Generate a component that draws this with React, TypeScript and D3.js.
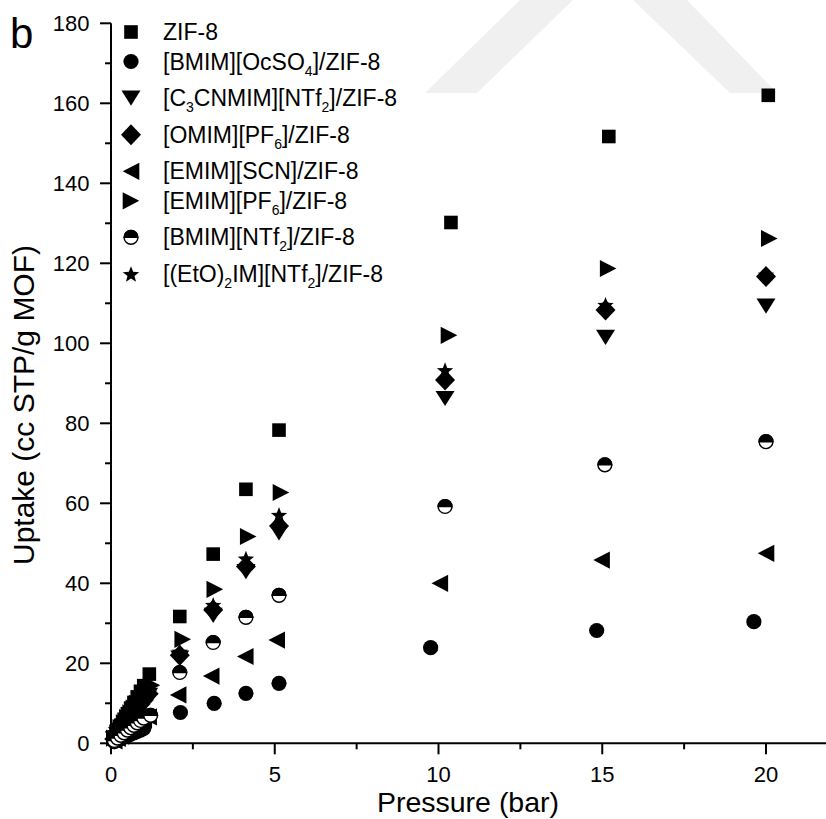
import React from "react";
import * as d3 from "d3";

// ---- data (pressure in bar, uptake in cc STP/g MOF) ----
const zif8: [number, number][] = [
  [0.1, 1.6], [0.2, 3.1], [0.3, 4.5], [0.4, 6.0], [0.5, 7.4], [0.6, 8.8], [0.7, 10.2], [0.8, 11.6], [0.9, 13.0], [1.0, 14.4], [1.17, 17.3],
  [2.1, 31.7], [3.12, 47.3], [4.12, 63.5], [5.13, 78.3], [10.38, 130.2], [15.2, 151.7], [20.07, 162.0],
];
const bmimOcSO4: [number, number][] = [
  [0.1, 0.4], [0.2, 0.8], [0.3, 1.2], [0.4, 1.6], [0.5, 1.9], [0.6, 2.3], [0.7, 2.6], [0.8, 3.0], [0.9, 3.3], [1.0, 3.7],
  [2.12, 7.7], [3.15, 10.0], [4.12, 12.5], [5.13, 15.0], [9.76, 23.9], [14.83, 28.2], [19.63, 30.4],
];
const c3cnmimNTf2: [number, number][] = [
  [0.1, 1.1], [0.2, 2.2], [0.3, 3.3], [0.4, 4.3], [0.5, 5.4], [0.6, 6.4], [0.7, 7.5], [0.8, 8.5], [0.9, 9.5], [1.0, 10.5], [1.15, 12.0],
  [2.1, 21.3], [3.12, 32.0], [4.12, 42.9], [5.13, 52.6], [10.2, 86.2], [15.1, 101.5], [20.0, 109.3],
];
const omimPF6: [number, number][] = [
  [0.1, 1.1], [0.2, 2.3], [0.3, 3.4], [0.4, 4.5], [0.5, 5.6], [0.6, 6.6], [0.7, 7.7], [0.8, 8.8], [0.9, 9.8], [1.0, 10.8], [1.15, 12.4],
  [2.1, 22.0], [3.12, 33.3], [4.12, 44.2], [5.13, 54.3], [10.2, 90.8], [15.1, 108.3], [20.0, 116.7],
];
const emimSCN: [number, number][] = [
  [0.1, 0.6], [0.2, 1.2], [0.3, 1.8], [0.4, 2.4], [0.5, 3.0], [0.6, 3.6], [0.7, 4.1], [0.8, 4.7], [0.9, 5.2], [1.0, 5.8], [1.15, 6.6],
  [2.05, 12.1], [3.06, 16.8], [4.1, 21.7], [5.06, 25.8], [10.04, 40.0], [14.98, 45.8], [20.0, 47.5],
];
const emimPF6: [number, number][] = [
  [0.1, 1.3], [0.2, 2.6], [0.3, 3.9], [0.4, 5.1], [0.5, 6.4], [0.6, 7.6], [0.7, 8.8], [0.8, 10.0], [0.9, 11.2], [1.0, 12.4], [1.25, 14.5],
  [2.19, 26.0], [3.17, 38.5], [4.19, 51.7], [5.19, 62.7], [10.32, 102.0], [15.18, 118.7], [20.1, 126.2],
];
const bmimNTf2: [number, number][] = [
  [0.1, 0.7], [0.2, 1.3], [0.3, 2.0], [0.4, 2.6], [0.5, 3.3], [0.6, 3.9], [0.7, 4.5], [0.8, 5.1], [0.9, 5.7], [1.0, 6.3], [1.21, 7.0],
  [2.1, 17.7], [3.12, 25.2], [4.12, 31.5], [5.13, 37.0], [10.2, 59.2], [15.08, 69.6], [20.0, 75.4],
];
const eto2imNTf2: [number, number][] = [
  [0.1, 1.2], [0.2, 2.4], [0.3, 3.5], [0.4, 4.7], [0.5, 5.8], [0.6, 6.9], [0.7, 8.0], [0.8, 9.1], [0.9, 10.2], [1.0, 11.3], [1.15, 12.8],
  [2.1, 22.9], [3.12, 34.6], [4.12, 46.2], [5.13, 57.1], [10.2, 93.3], [15.1, 109.6], [20.0, 117.2],
];

const seriesLabels = [
  "ZIF-8",
  "[BMIM][OcSO_4]/ZIF-8",
  "[C_3CNMIM][NTf_2]/ZIF-8",
  "[OMIM][PF_6]/ZIF-8",
  "[EMIM][SCN]/ZIF-8",
  "[EMIM][PF_6]/ZIF-8",
  "[BMIM][NTf_2]/ZIF-8",
  "[(EtO)_2IM][NTf_2]/ZIF-8",
];
const seriesSymbols = ["square", "circle", "down", "diamond", "left", "right", "half", "star"];
const seriesData = [zif8, bmimOcSO4, c3cnmimNTf2, omimPF6, emimSCN, emimPF6, bmimNTf2, eto2imNTf2];
// drawing order (bottom to top)
const drawOrder = [7, 0, 1, 2, 3, 4, 5, 6];

const xMajorTicks = [0, 5, 10, 15, 20];
const xMinorTicks = [2.5, 7.5, 12.5, 17.5];
const yMajorTicks = [0, 20, 40, 60, 80, 100, 120, 140, 160, 180];
const yMinorTicks = [10, 30, 50, 70, 90, 110, 130, 150, 170];

const xTitle = "Pressure (bar)";
const yTitle = "Uptake (cc STP/g MOF)";
const panelLabel = "b";

const FONT = "'Liberation Sans', Arial, Helvetica, sans-serif";

function starPath(R: number, r: number): string {
  const pts: string[] = [];
  for (let i = 0; i < 10; i++) {
    const rad = i % 2 === 0 ? R : r;
    const a = -Math.PI / 2 + (i * Math.PI) / 5;
    pts.push(`${(rad * Math.cos(a)).toFixed(2)},${(rad * Math.sin(a) + 0.8).toFixed(2)}`);
  }
  return "M" + pts.join("L") + "Z";
}

function Symbol({ kind, x, y }: { kind: string; x: number; y: number }) {
  const t = `translate(${x},${y})`;
  switch (kind) {
    case "square":
      return <rect x={x - 6.8} y={y - 6.8} width={13.6} height={13.6} fill="#000" />;
    case "circle":
      return <circle cx={x} cy={y} r={7.6} fill="#000" />;
    case "down":
      return <path transform={t} d="M-9.5,-7.6L9.5,-7.6L0,7.6Z" fill="#000" />;
    case "diamond":
      return <path transform={t} d="M0,-10.5L10,0L0,10.5L-10,0Z" fill="#000" />;
    case "left":
      return <path transform={t} d="M-8.3,0L8.3,-8.6L8.3,8.6Z" fill="#000" />;
    case "right":
      return <path transform={t} d="M8.3,0L-8.3,-8.6L-8.3,8.6Z" fill="#000" />;
    case "star":
      return <path transform={t} d={starPath(8.6, 3.7)} fill="#000" />;
    case "half":
      return (
        <g transform={t}>
          <circle r={6.9} fill="#fff" stroke="#000" strokeWidth={1.4} />
          <path d="M-6.9,0A6.9,6.9 0 0 1 6.9,0Z" fill="#000" stroke="#000" strokeWidth={1.4} />
        </g>
      );
    default:
      return null;
  }
}

function LabelText({ label, x, y }: { label: string; x: number; y: number }) {
  const parts = label.split(/_(\w)/);
  const nodes: React.ReactNode[] = [];
  let shifted = false;
  parts.forEach((p, i) => {
    if (p === "") return;
    if (i % 2 === 1) {
      nodes.push(
        <tspan key={i} fontSize={14} dy={shifted ? 0 : 6}>
          {p}
        </tspan>
      );
      shifted = true;
    } else {
      nodes.push(
        <tspan key={i} dy={shifted ? -6 : 0}>
          {p}
        </tspan>
      );
      shifted = false;
    }
  });
  return (
    <text x={x} y={y} fontSize={23} fontFamily={FONT} fill="#000">
      {nodes}
    </text>
  );
}

export default function App() {
  const W = 826;
  const H = 819;
  const x = d3.scaleLinear().domain([0, 20]).range([111, 766]);
  const y = d3.scaleLinear().domain([0, 180]).range([743.3, 23.3]);
  const xEnd = x(22.5);

  // legend row positions
  const legendY: number[] = [];
  let cy = 32;
  seriesLabels.forEach((lab) => {
    legendY.push(cy);
    cy += lab.includes("_") ? 36.6 : 29.5;
  });

  return (
    <svg
      width={W}
      height={H}
      viewBox={`0 0 ${W} ${H}`}
      style={{ position: "absolute", left: 0, top: 0, background: "#fff" }}
    >
      <rect x={0} y={0} width={W} height={H} fill="#fff" />
      {/* faint watermark */}
      <g fill="#f0f0f0">
        <polygon points="425,93 477,93 573,0 520,0" />
        <polygon points="633,0 687,0 777,93 730,93" />
      </g>

      {/* axes */}
      <g stroke="#000" strokeWidth={2} fill="none">
        <line x1={x(0)} y1={y(0)} x2={xEnd} y2={y(0)} />
        <line x1={x(0)} y1={y(0) + 1} x2={x(0)} y2={y(180)} />
        {xMajorTicks.map((t) => (
          <line key={"xM" + t} x1={x(t)} x2={x(t)} y1={y(0)} y2={y(0) + 11} />
        ))}
        {xMinorTicks.map((t) => (
          <line key={"xm" + t} x1={x(t)} x2={x(t)} y1={y(0)} y2={y(0) + 6} />
        ))}
        {yMajorTicks.map((t) => (
          <line key={"yM" + t} x1={x(0) - 11} x2={x(0)} y1={y(t)} y2={y(t)} />
        ))}
        {yMinorTicks.map((t) => (
          <line key={"ym" + t} x1={x(0) - 6} x2={x(0)} y1={y(t)} y2={y(t)} />
        ))}
      </g>
      <g fontFamily={FONT} fontSize={22} fill="#000">
        {xMajorTicks.map((t) => (
          <text key={"xl" + t} x={x(t)} y={781.5} textAnchor="middle">
            {t}
          </text>
        ))}
        {yMajorTicks.map((t) => (
          <text key={"yl" + t} x={89.5} y={y(t) + 8} textAnchor="end">
            {t}
          </text>
        ))}
      </g>
      <text x={468} y={812} textAnchor="middle" fontFamily={FONT} fontSize={28.5} fill="#000">
        {xTitle}
      </text>
      <text
        transform={`translate(34,405) rotate(-90)`}
        textAnchor="middle"
        fontFamily={FONT}
        fontSize={30}
        fill="#000"
      >
        {yTitle}
      </text>
      <text x={10} y={48} fontFamily={FONT} fontSize={42} fill="#000">
        {panelLabel}
      </text>

      {/* data */}
      {drawOrder.map((si) => (
        <g key={"s" + si}>
          {seriesData[si].map((d, i) => (
            <Symbol key={i} kind={seriesSymbols[si]} x={x(d[0])} y={y(d[1])} />
          ))}
        </g>
      ))}

      {/* legend */}
      {seriesLabels.map((lab, i) => (
        <g key={"lg" + i}>
          <Symbol kind={seriesSymbols[i]} x={131} y={legendY[i]} />
          <LabelText label={lab} x={163} y={legendY[i] + 8} />
        </g>
      ))}
    </svg>
  );
}
